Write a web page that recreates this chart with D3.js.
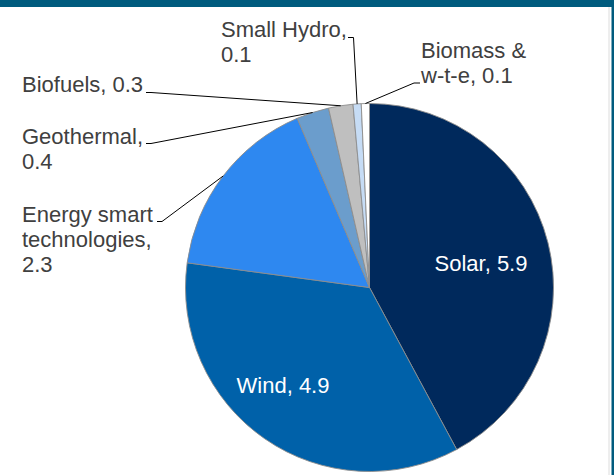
<!DOCTYPE html>
<html><head><meta charset="utf-8">
<script src="https://cdn.jsdelivr.net/npm/d3@7"></script>
<style>body{margin:0;background:#fff}svg{display:block}</style>
</head><body>
<script>
const categories = ["Solar","Wind","Energy smart technologies","Geothermal","Biofuels","Small Hydro","Biomass & w-t-e"];
const values = [5.9, 4.9, 2.3, 0.4, 0.3, 0.1, 0.1];
const labelLines = [
  ["Solar, 5.9"],
  ["Wind, 4.9"],
  ["Energy smart","technologies,","2.3"],
  ["Geothermal,","0.4"],
  ["Biofuels, 0.3"],
  ["Small Hydro,","0.1"],
  ["Biomass &","w-t-e, 0.1"]
];
const colors = ["#00295c","#0061a9","#2e88f0","#6b9dcc","#bfbfbf","#c6dcf5","#ffffff"];

const W = 614, H = 475;
const cx = 369.5, cy = 287.5, R = 184;
const svg = d3.select("body").append("svg").attr("width", W).attr("height", H);

// frame
svg.append("rect").attr("x",0).attr("y",0).attr("width",W).attr("height",7).attr("fill","#005b7e");
svg.append("rect").attr("x",611.5).attr("y",0).attr("width",2.5).attr("height",H).attr("fill","#005b7e");
svg.append("line").attr("x1",609).attr("x2",609).attr("y1",7).attr("y2",H).attr("stroke","#dcdcdc").attr("stroke-width",1);

const data = categories.map((c,i)=>({name:c, value:values[i], lines:labelLines[i], color:colors[i]}));
const pie = d3.pie().value(d=>d.value).sort(null).startAngle(0).endAngle(2*Math.PI);
const arcs = pie(data);
const arc = d3.arc().innerRadius(0).outerRadius(R);
const edge = d3.arc().innerRadius(R).outerRadius(R);

const g = svg.append("g").attr("transform",`translate(${cx},${cy})`);
g.selectAll("path").data(arcs).join("path")
  .attr("d", arc).attr("fill", d=>d.data.color)
  .attr("stroke","#8c8c8c").attr("stroke-width",0.9);

const font = "'Liberation Sans', Arial, sans-serif";
const fs = 22, lh = 25;

const layout = [
  {inside:true, x:481, y:271},
  {inside:true, x:283, y:393},
  {x:22, y:222, lx:157, ly:221.5, ex:162},
  {x:22, y:144, lx:146, ly:143.5, ex:151},
  {x:22, y:92, lx:146, ly:92.5, ex:151},
  {x:221, y:37, lx:348, ly:37.5, ex:353.5},
  {x:421, y:58, lx:420, ly:83, ex:414}
];

arcs.forEach((a,i)=>{
  const L = layout[i];
  if (L.inside) {
    svg.append("text").attr("x",L.x).attr("y",L.y).attr("text-anchor","middle")
      .attr("font-family",font).attr("font-size",fs).attr("fill","#ffffff")
      .text(a.data.lines[0]);
    return;
  }
  const t = svg.append("text").attr("font-family",font).attr("font-size",fs).attr("fill","#404040");
  a.data.lines.forEach((s,k)=>{
    t.append("tspan").attr("x",L.x).attr("y",L.y + k*lh).text(s);
  });
  const p = edge.centroid(a);
  const pts = [[L.lx,L.ly],[L.ex,L.ly],[cx+p[0], cy+p[1]]];
  svg.append("path").attr("d", d3.line()(pts)).attr("fill","none")
    .attr("stroke","#000").attr("stroke-width",1);
});
</script>
</body></html>
